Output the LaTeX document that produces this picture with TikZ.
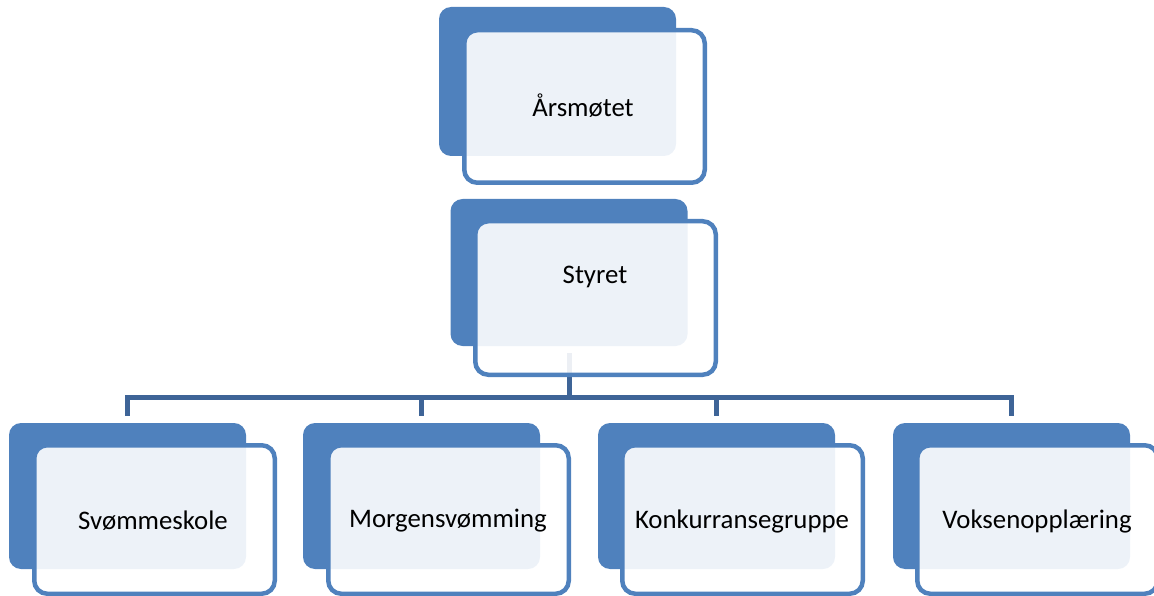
\documentclass[tikz,border=0pt]{standalone}
\usepackage{fontspec}
\setmainfont{Carlito}
\definecolor{accent}{HTML}{4F81BD}
\definecolor{connc}{HTML}{3E6497}
\tikzset{
  backbox/.style={rectangle, rounded corners=12pt, fill=accent, draw=none,
    minimum width=237pt, minimum height=147pt, inner sep=0pt},
  frontbox/.style={rectangle, rounded corners=13pt, draw=accent, line width=4.5pt,
    fill=white, fill opacity=0.9, draw opacity=1, text opacity=1,
    minimum width=240.5pt, inner sep=0pt},
  conn/.style={draw=connc, line width=5pt, line join=miter},
  lbl/.style={font=\fontsize{26.8}{31}\selectfont, text=black, inner sep=0pt}
}
\begin{document}
\begin{tikzpicture}[x=1pt,y=-1pt]
\useasboundingbox (0,0) rectangle (1154,596);
\clip (0,0) rectangle (1154,596);
% back boxes
\node[backbox, minimum height=149pt] (ab) at (557.5,81.5) {};
\node[backbox] (sb) at (569,272.5) {};
\node[backbox, minimum height=146pt] (c1b) at (127.5,496) {};
\node[backbox, minimum height=146pt] (c2b) at (421.5,496) {};
\node[backbox, minimum height=146pt] (c3b) at (716.5,496) {};
\node[backbox, minimum height=146pt] (c4b) at (1011.5,496) {};
% connectors
\coordinate (bus) at (569,397);
\draw[conn] ([yshift=-7pt]sb.south) -- (bus);
\draw[conn] ([yshift=7pt]c1b.north) |- (bus) -| ([yshift=7pt]c4b.north);
\draw[conn] ([yshift=7pt]c2b.north) -- (c2b.north |- bus);
\draw[conn] ([yshift=7pt]c3b.north) -- (c3b.north |- bus);
% front boxes
\node[frontbox, minimum height=152.5pt] (af) at (584.5,106.5) {};
\node[frontbox, minimum height=153.5pt] (sf) at (595.5,298) {};
\node[frontbox, minimum height=148.5pt] (c1f) at (154.5,519.5) {};
\node[frontbox, minimum height=148.5pt] (c2f) at (448.5,519.5) {};
\node[frontbox, minimum height=148.5pt] (c3f) at (742.5,519.5) {};
\node[frontbox, minimum height=148.5pt] (c4f) at (1037.5,519.5) {};
% labels
\node[lbl] (at) at (583,106) {Årsmøtet};
\node[lbl] (st) at (595,277) {Styret};
\node[lbl] (t1) at (153,521) {Svømmeskole};
\node[lbl] (t2) at (448,521) {Morgensvømming};
\node[lbl] (t3) at (742,521) {Konkurransegruppe};
\node[lbl] (t4) at (1037,521) {Voksenopplæring};
\end{tikzpicture}
\end{document}
